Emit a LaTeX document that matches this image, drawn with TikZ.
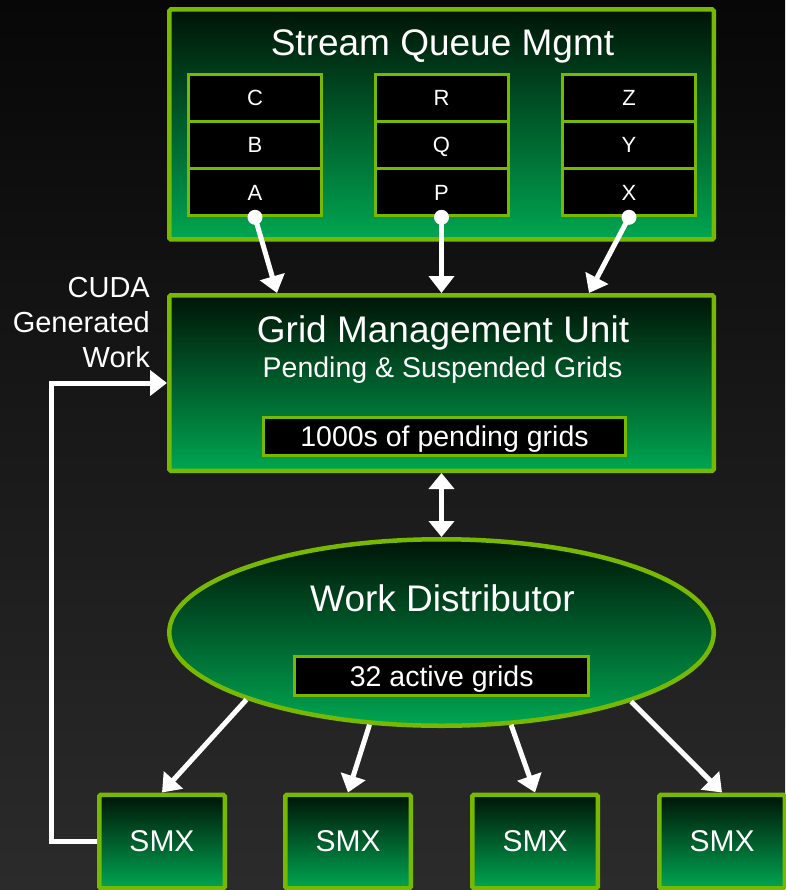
\documentclass[tikz,border=0pt]{standalone}
\usepackage{fontspec}
\setmainfont{Liberation Sans}
\usetikzlibrary{arrows.meta,shapes.geometric,calc}

\definecolor{nvgreen}{HTML}{76B900}
\definecolor{boxtop}{HTML}{001406}
\definecolor{boxbot}{HTML}{00A651}
\definecolor{bgtop}{HTML}{070707}
\definecolor{bgbot}{HTML}{2B2B2B}

\begin{document}
\begin{tikzpicture}[x=1pt,y=-1pt,
  unit/.style={draw=nvgreen, line width=4.5pt, rounded corners=1.5pt,
    top color=boxtop, bottom color=boxbot, inner sep=0pt},
  cell/.style={draw=nvgreen, line width=3pt, fill=black, minimum width=133pt,
    minimum height=47.2pt, inner sep=0pt, text=white,
    font=\fontsize{22}{26}\selectfont, text height=15.8pt, text depth=0pt},
  tag/.style={draw=nvgreen, line width=3pt, fill=black, inner sep=0pt,
    text=white, font=\fontsize{28.5}{34}\selectfont,
    text height=20.5pt, text depth=0pt},
  title/.style={text=white, font=\fontsize{37}{44}\selectfont, anchor=base,
    inner sep=0pt},
  subtitle/.style={text=white, font=\fontsize{28.5}{34}\selectfont,
    anchor=base, inner sep=0pt},
  smxbox/.style={unit, minimum width=125.5pt, minimum height=93.5pt,
    text=white, font=\fontsize{30}{36}\selectfont},
  flow/.style={draw=white, line width=5pt, line join=miter,
    -{Triangle[length=17pt,width=25pt]}},
]

% backdrop
\useasboundingbox (0,0) rectangle (785,890);
\shade[top color=bgtop, bottom color=bgbot] (0,0) rectangle (785,890);

% stream queues
\node[unit, minimum width=544.5pt, minimum height=230pt] (sqm) at (441.5,124.5) {};
\node[title] (sqmt) at (442.5,55.5) {Stream Queue Mgmt};

\node[cell] (qC) at (255,97.8) {C};
\node[cell] (qB) at (255,145) {B};
\node[cell] (qA) at (255,192.2) {A};
\node[cell] (qR) at (441.5,97.8) {R};
\node[cell] (qQ) at (441.5,145) {Q};
\node[cell] (qP) at (441.5,192.2) {P};
\node[cell] (qZ) at (629,97.8) {Z};
\node[cell] (qY) at (629,145) {Y};
\node[cell] (qX) at (629,192.2) {X};

% grid management unit
\node[unit, minimum width=544.5pt, minimum height=175.5pt] (gmu) at (441.5,383) {};
\node[title] (gmut) at (443,342) {Grid Management Unit};
\node[subtitle] (gmus) at (442.5,377) {Pending \& Suspended Grids};
\node[tag, minimum width=362pt, minimum height=38pt] (pend) at (444.5,436.5) {1000s of pending grids};

% queue heads feeding the GMU
\foreach \q in {qA,qP,qX} \fill[white] (\q.south) circle (7.5pt);
\draw[flow] (qA.south) -- ([xshift=110pt]gmu.north west);
\draw[flow] (qP.south) -- (gmu.north);
\draw[flow] (qX.south) -- ([xshift=-127pt]gmu.north east);

% work distributor
\node[ellipse, draw=nvgreen, line width=4.5pt, top color=boxtop, bottom color=boxbot,
  minimum width=544.5pt, minimum height=186.5pt, inner sep=0pt] (wd) at (441.5,632.5) {};
\node[title] (wdt) at (442.5,611) {Work Distributor};
\node[tag, minimum width=293.7pt, minimum height=38.4pt] (act) at (441.7,676) {32 active grids};

\draw[draw=white, line width=5pt,
  {Triangle[length=16pt,width=25pt]}-{Triangle[length=16pt,width=25pt]}]
  (gmu.south) -- (wd.north);

% SMX units
\node[smxbox] (s1) at (162,841.5) {SMX};
\node[smxbox] (s2) at (348,841.5) {SMX};
\node[smxbox] (s3) at (535,841.5) {SMX};
\node[smxbox] (s4) at (722,841.5) {SMX};

\draw[flow] (wd.199.8) -- (s1.north);
\draw[flow] (wd.232.5) -- (s2.north);
\draw[flow] (wd.307.5) -- (s3.north);
\draw[flow] (wd.340.2) -- (s4.north);

% dynamically launched work returns to the GMU
\draw[flow] (s1.west) -- ++(-46,0) |- (gmu.west);
\node[text=white, align=right, font=\fontsize{29}{35}\selectfont,
  anchor=base east, inner sep=0pt] (cuda) at (150,367) {CUDA\\Generated\\Work};

\end{tikzpicture}
\end{document}
